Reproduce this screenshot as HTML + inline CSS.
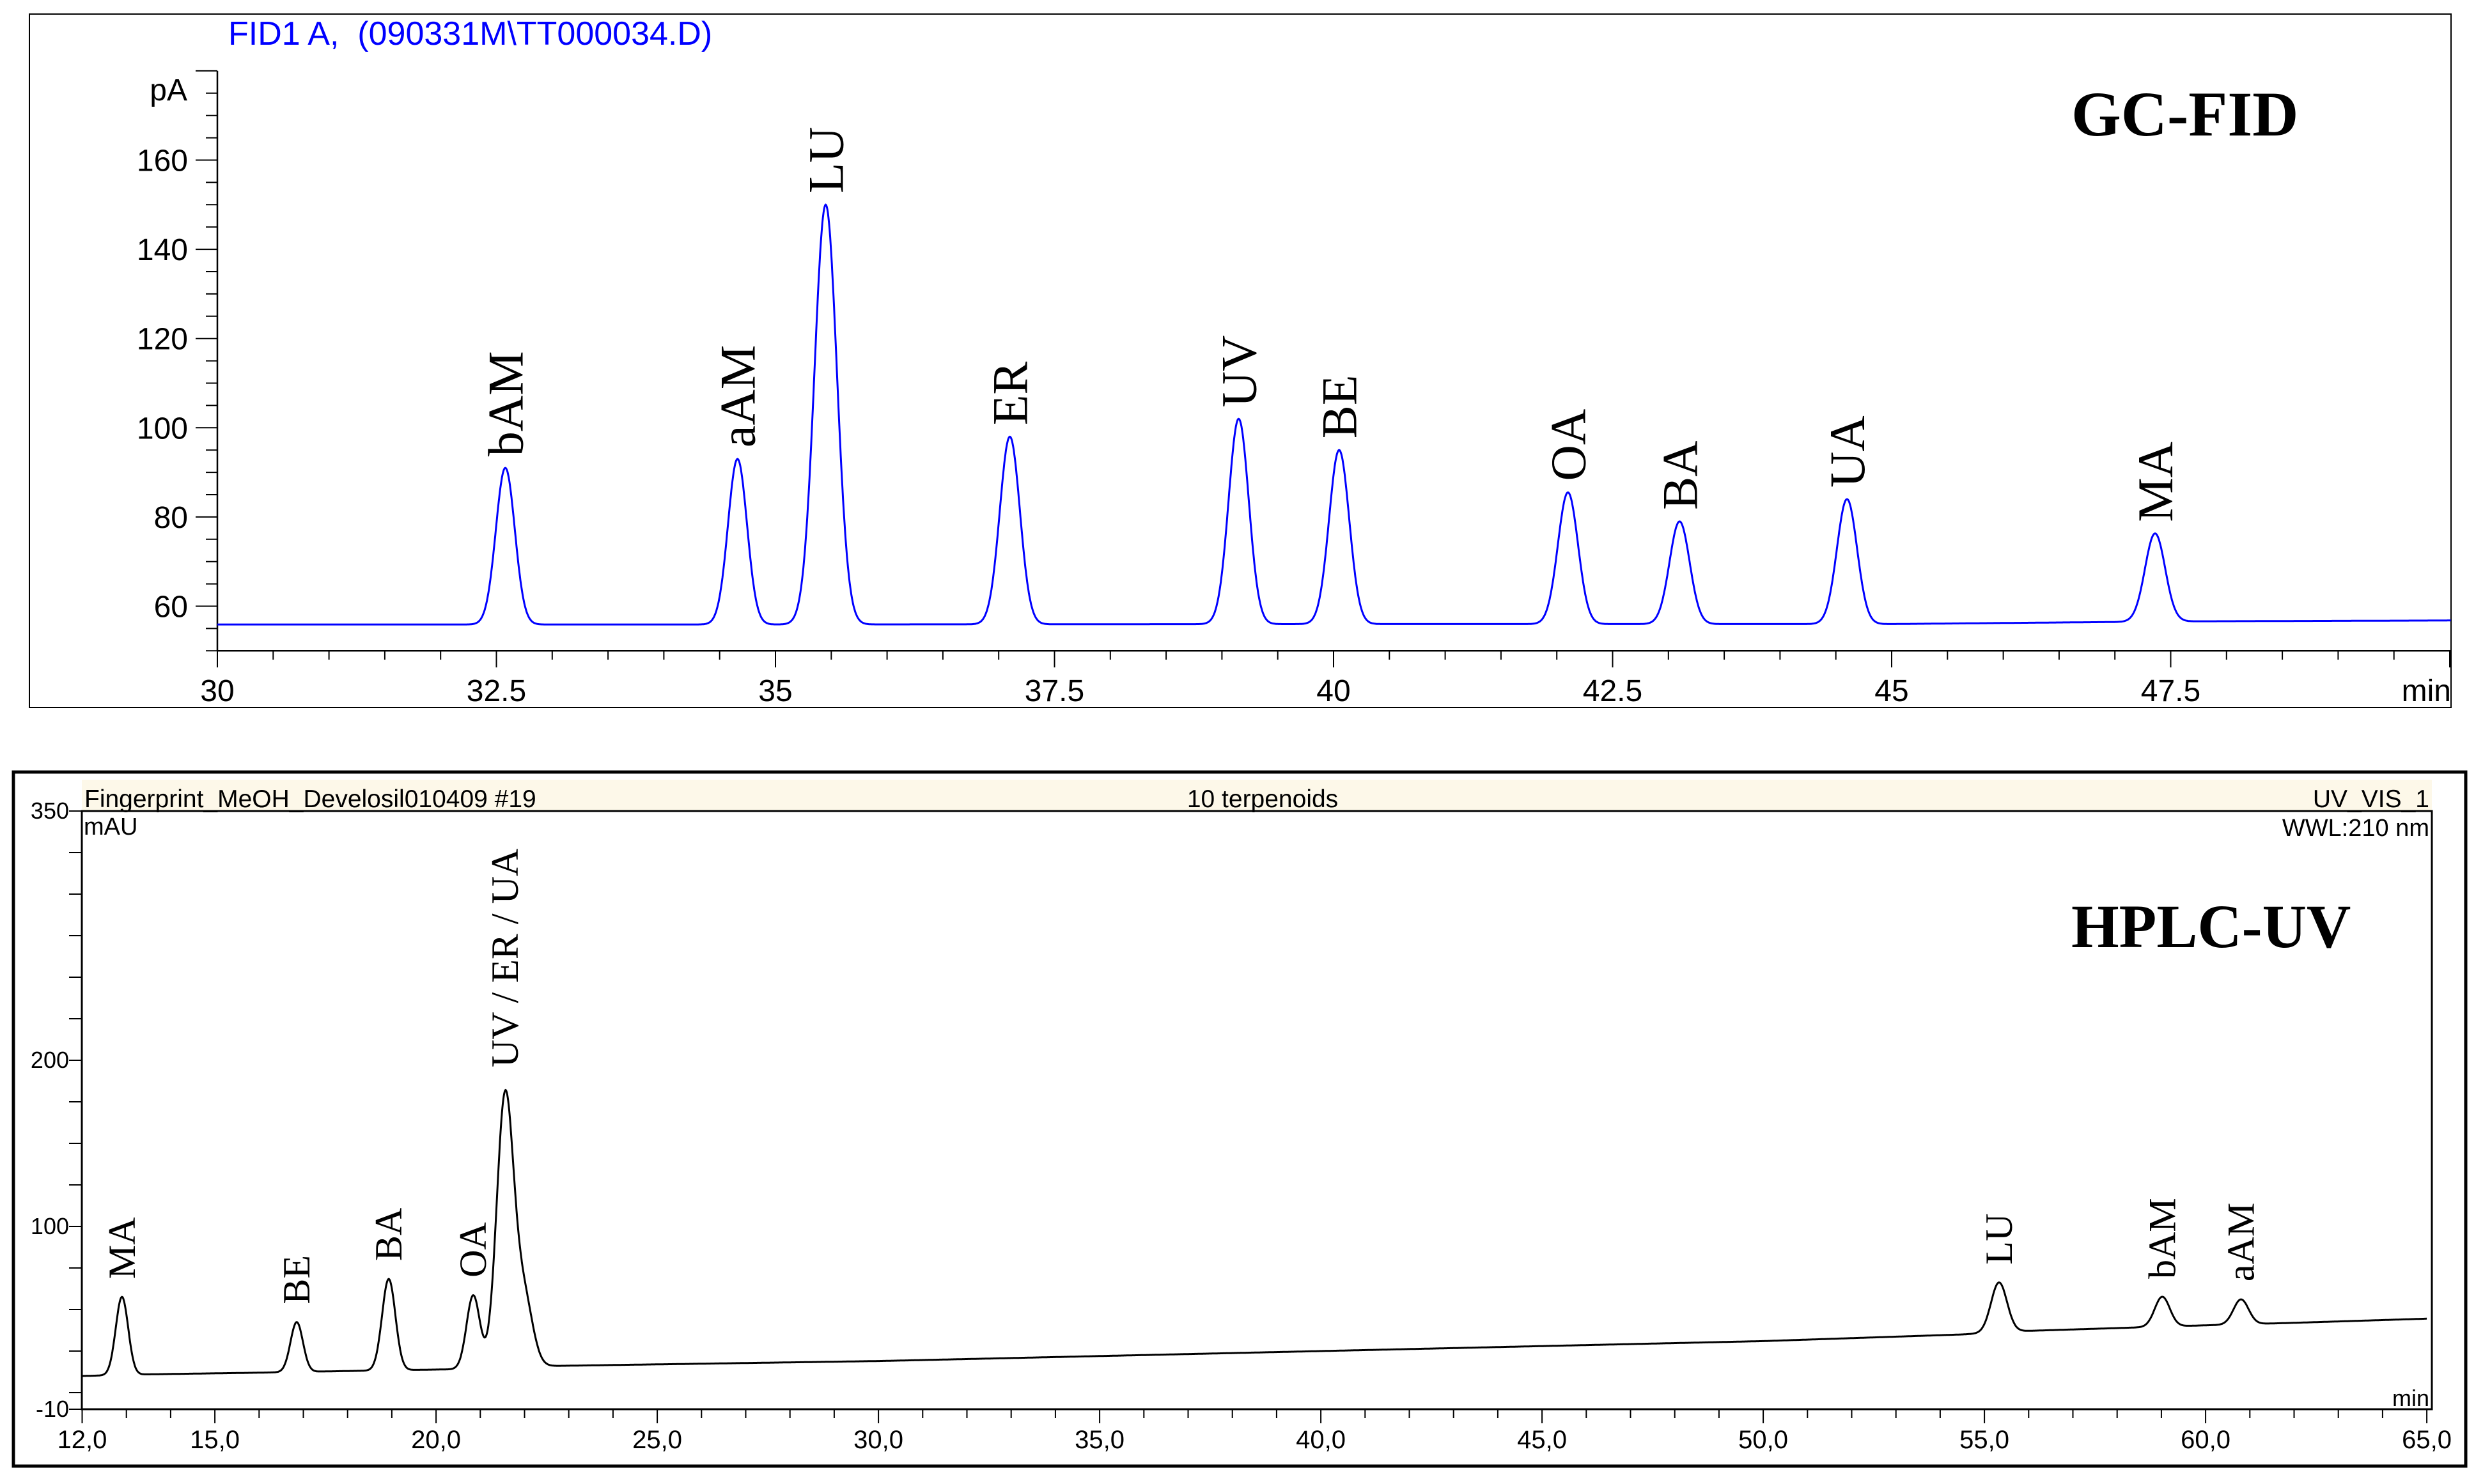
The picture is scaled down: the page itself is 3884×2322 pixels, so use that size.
<!DOCTYPE html>
<html><head><meta charset="utf-8">
<style>
html,body{margin:0;padding:0;background:#fff;}
svg{display:block;}
.ax{font-family:"Liberation Sans",sans-serif;}
.tm{font-family:"Liberation Serif",serif;}
</style></head>
<body>
<svg id="svg" xmlns="http://www.w3.org/2000/svg" width="3884" height="2322" viewBox="0 0 3884 2322">
<rect x="0" y="0" width="3884" height="2322" fill="#fff"/>
<g id="gc">
<rect x="46" y="22" width="3788" height="1085" fill="none" stroke="#000" stroke-width="2"/>
<text x="357" y="70" class="ax" font-size="52" fill="#0000ff" style="white-space:pre">FID1 A,&#160;&#160;(090331M\TT000034.D)</text>
<text x="293" y="157" class="ax" font-size="48" text-anchor="end">pA</text>
<text x="3834" y="1097" class="ax" font-size="48" text-anchor="end">min</text>
<text x="3240" y="212" class="tm" font-size="100" font-weight="bold">GC-FID</text>
</g>
<g id="lc">
<rect x="21" y="1208" width="3836" height="1086" fill="none" stroke="#000" stroke-width="5"/>
<rect x="128" y="1220" width="3676" height="49" fill="#fdf8e9"/>
<text x="132" y="1263" class="ax" font-size="39">Fingerprint_MeOH_Develosil010409 #19</text>
<text x="1975" y="1263" class="ax" font-size="39" text-anchor="middle">10 terpenoids</text>
<text x="3800" y="1263" class="ax" font-size="39" text-anchor="end">UV_VIS_1</text>
<text x="3800" y="1308" class="ax" font-size="38" text-anchor="end">WWL:210 nm</text>
<text x="131" y="1306" class="ax" font-size="38">mAU</text>
<text x="3800" y="2200" class="ax" font-size="36" text-anchor="end">min</text>
<text x="3240" y="1482" class="tm" font-size="96" font-weight="bold">HPLC-UV</text>
<rect x="128" y="1269" width="3676" height="936" fill="none" stroke="#000" stroke-width="3"/>
</g>
</svg>
<script>
// ---- GC-FID data ----
const gcNames = ["bAM","aAM","LU","ER","UV","BE","OA","BA","UA","MA"];
const gcTimes = [32.58,34.66,35.45,37.10,39.15,40.05,42.10,43.10,44.60,47.36];
const gcHeights = [91,93,150,98,102,95,85.5,79,84,76.3];
const gcSigmas = [0.085,0.085,0.1,0.09,0.09,0.09,0.09,0.09,0.09,0.09];
const gcBaseT = [30,35,40,45,47.6,50];
const gcBaseV = [55.9,55.9,56.0,56.0,56.6,56.8];
const gcYTicks = [60,80,100,120,140,160];
const gcXTicks = [30,32.5,35,37.5,40,42.5,45,47.5];
const gcXTickLabels = ["30","32.5","35","37.5","40","42.5","45","47.5"];
// ---- HPLC data ----
const lcNames = ["MA","BE","BA","OA","UV / ER / UA","","LU","bAM","aAM"];
const lcTimes = [12.9,16.85,18.93,20.84,21.56,21.98,55.33,59.02,60.8];
const lcHeights = [47,30,55,44,162,42,30,18,15];
const lcSigmas = [0.14,0.14,0.15,0.15,0.19,0.2,0.18,0.17,0.17];
const lcBaseT = [12,13.5,16,18,20.3,22.5,30,40,50,54.5,55.8,57,60,62,65];
const lcBaseV = [10,11,12,13,14,16,19,25,31,35,37,38,40.5,42,44.5];
const lcYTicks = [-10,100,200,350];
const lcXTicks = [12,15,20,25,30,35,40,45,50,55,60,65];
const lcXTickLabels = ["12,0","15,0","20,0","25,0","30,0","35,0","40,0","45,0","50,0","55,0","60,0","65,0"];

const NS="http://www.w3.org/2000/svg";
const gcG=document.getElementById('gc'), lcG=document.getElementById('lc');
function mk(tag,attrs,parent,txt){const e=document.createElementNS(NS,tag);for(const k in attrs)e.setAttribute(k,attrs[k]);if(txt!==undefined)e.textContent=txt;parent.appendChild(e);return e;}
function interp(ts,vs,t){if(t<=ts[0])return vs[0];for(let i=1;i<ts.length;i++){if(t<=ts[i]){const f=(t-ts[i-1])/(ts[i]-ts[i-1]);return vs[i-1]+f*(vs[i]-vs[i-1]);}}return vs[vs.length-1];}

// GC axes
const gx=t=>340+(t-30)*174.6, gy=v=>948.5-(v-60)*6.98;
const gEnd=30+(3834-340)/174.6;
const ya=mk('line',{x1:340,y1:gy(180),x2:340,y2:gy(50),stroke:'#000','stroke-width':2.5},gcG);


const xa=mk('line',{x1:340,y1:gy(50),x2:3834,y2:gy(50),stroke:'#000','stroke-width':2.5},gcG);


for(let v=50;v<=180;v+=5){const major=(v%20===0);const l=mk('line',{x1:major?306:322,y1:gy(v),x2:340,y2:gy(v),stroke:'#000','stroke-width':2},gcG);

}
gcYTicks.forEach(v=>{const t=mk('text',{x:294,y:gy(v)+17,'font-size':48,'text-anchor':'end',class:'ax'},gcG,String(v));

});
for(let k=0;30+k*0.5<=gEnd;k++){const t=30+k*0.5;const major=(k%5===0);
const l=mk('line',{x1:gx(t),y1:gy(50),x2:gx(t),y2:gy(50)+(major?26:14),stroke:'#000','stroke-width':2},gcG);

}
gcXTicks.forEach((t,i)=>{const e=mk('text',{x:gx(t),y:1097,'font-size':48,'text-anchor':'middle',class:'ax'},gcG,gcXTickLabels[i]);

});
// GC trace
let d='';for(let t=30;t<=gEnd;t+=0.005){let v=interp(gcBaseT,gcBaseV,t);for(let i=0;i<gcTimes.length;i++){const z=(t-gcTimes[i])/gcSigmas[i];v+=(gcHeights[i]-interp(gcBaseT,gcBaseV,gcTimes[i]))*Math.exp(-0.5*z*z);}
d+=(d?'L':'M')+gx(t).toFixed(1)+' '+gy(v).toFixed(1);}
const gp=mk('path',{d:d,fill:'none',stroke:'#0000ff','stroke-width':3},gcG);


gcNames.forEach((n,i)=>{const x=gx(gcTimes[i])+27,y=gy(gcHeights[i])-18;
const e=mk('text',{x:x,y:y,'font-size':78,class:'tm',transform:`rotate(-90 ${x} ${y})`},gcG,n);

});

// HPLC axes
const lx=t=>128.5+(t-12)*69.2, ly=v=>2205-(v+10)*2.6;
for(let v=0;v<=350;v+=25){const l=mk('line',{x1:108,y1:ly(v),x2:128,y2:ly(v),stroke:'#000','stroke-width':2},lcG);

}
const lt=mk('line',{x1:108,y1:ly(-10),x2:128,y2:ly(-10),stroke:'#000','stroke-width':2},lcG);


lcYTicks.forEach(v=>{const e=mk('text',{x:108,y:ly(v)+12,'font-size':36,'text-anchor':'end',class:'ax'},lcG,String(v));

});
for(let t=12;t<=65;t+=1){const major=(t%5===0)||t===12;const l=mk('line',{x1:lx(t),y1:2205,x2:lx(t),y2:2205+(major?22:14),stroke:'#000','stroke-width':2},lcG);

}
lcXTicks.forEach((t,i)=>{const e=mk('text',{x:lx(t),y:2266,'font-size':40,'text-anchor':'middle',class:'ax'},lcG,lcXTickLabels[i]);

});
let d2='';for(let t=12;t<=65;t+=0.01){let v=interp(lcBaseT,lcBaseV,t);for(let i=0;i<lcTimes.length;i++){const z=(t-lcTimes[i])/lcSigmas[i];v+=lcHeights[i]*Math.exp(-0.5*z*z);}
d2+=(d2?'L':'M')+lx(t).toFixed(1)+' '+ly(v).toFixed(1);}
const lp=mk('path',{d:d2,fill:'none',stroke:'#000','stroke-width':3},lcG);


lcNames.forEach((n,i)=>{if(!n)return;let top=interp(lcBaseT,lcBaseV,lcTimes[i])+lcHeights[i];if(i===4)top=185;
const x=lx(lcTimes[i])+20,y=ly(top)-28;
const e=mk('text',{x:x,y:y,'font-size':60,class:'tm',transform:`rotate(-90 ${x} ${y})`},lcG,n);

});
</script>
</body></html>
